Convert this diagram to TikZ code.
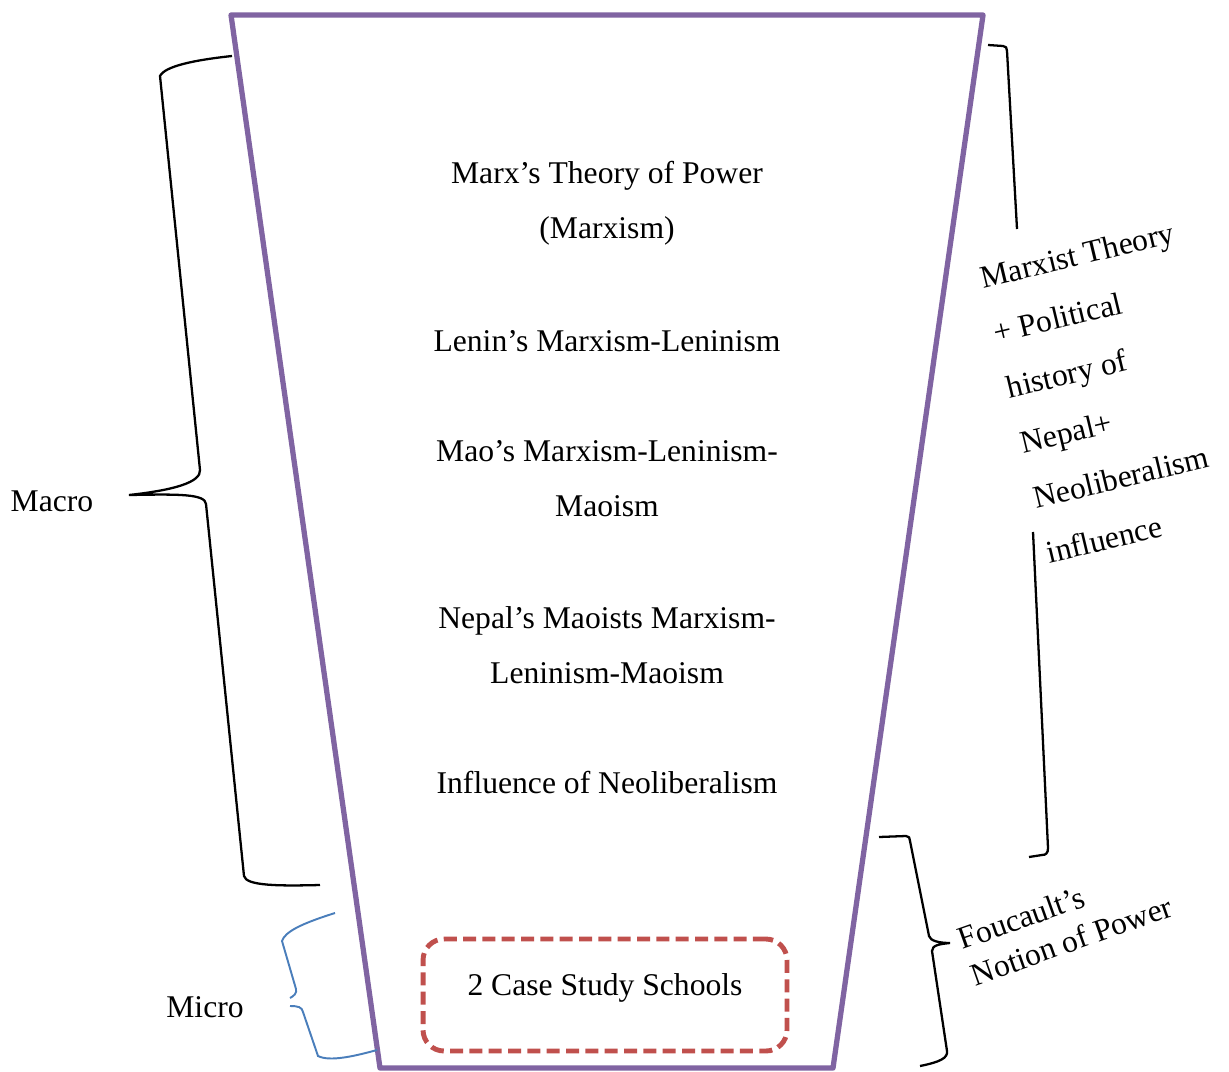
\documentclass[tikz,border=0pt]{standalone}
\usepackage{fontspec}
\setmainfont{Liberation Serif}
\definecolor{funnelpurple}{HTML}{8064A2}
\definecolor{boxred}{HTML}{C0504D}
\definecolor{braceblue}{HTML}{4A7EBB}
\begin{document}
\begin{tikzpicture}[x=0.02cm,y=-0.02cm,
  lbl/.style={font=\fontsize{18}{31.3}\selectfont, align=center, inner sep=0pt},
  sidelbl/.style={inner sep=0pt, anchor=north west, align=left},
  funnel/.style={draw=funnelpurple, line width=3pt, line join=round},
  casebox/.style={draw=boxred, line width=2.8pt, rounded corners=0.42cm, dash pattern=on 7.4pt off 3.6pt, minimum width=7.28cm, minimum height=2.24cm},
  bracepath/.style={draw=black, line width=1.3pt},
  bluebrace/.style={draw=braceblue, line width=1.1pt}]
\useasboundingbox (0,0) rectangle (1229,1071);
% funnel
\coordinate (tl) at (231,15);
\coordinate (tr) at (983,15);
\coordinate (br) at (833,1068);
\coordinate (bl) at (380,1068);
\draw[funnel] (tl) -- (tr) -- (br) -- (bl) -- cycle;
% labels inside
\node[lbl] (t1) at (607,203) {Marx’s Theory of Power\\(Marxism)};
\node[lbl] (t2) at (607,341) {Lenin’s Marxism-Leninism};
\node[lbl] (t3) at (607,479) {Mao’s Marxism-Leninism-\\Maoism};
\node[lbl] (t4) at (607,645) {Nepal’s Maoists Marxism-\\Leninism-Maoism};
\node[lbl] (t5) at (607,783) {Influence of Neoliberalism};
\node[casebox] (cs) at (605,995) {};
\node[lbl] (t6) at (605,988) {2 Case Study Schools};
% left labels
\node[lbl] (macro) at (52,501) {Macro};
\node[lbl] (micro) at (205,1007) {Micro};
% macro brace
\draw[bracepath] (232,56) .. controls (195,60) and (165,66) .. (160,76) -- (200,470)
  .. controls (201,482) and (175,490) .. (129,495)
  .. controls (180,494) and (205,494) .. (206,504) -- (244,876)
  .. controls (246,886) and (280,886) .. (320,885);
% micro brace
\draw[bluebrace] (335,913) .. controls (300,924) and (285,932) .. (282,941) -- (296,989)
  .. controls (297,993) and (294,996) .. (290,998);
\draw[bluebrace] (290,1006) .. controls (298,1006) and (302,1007) .. (303,1012) -- (318,1056)
  .. controls (330,1062) and (355,1056) .. (377,1050);
% right top bracket
\draw[bracepath] (988,45) -- (1003,46) .. controls (1006,46) and (1007,48) .. (1007,51) -- (1017,229);
\draw[bracepath] (1033,532) -- (1048,848) .. controls (1048,853) and (1046,855) .. (1042,855) -- (1029,857);
% right bottom brace
\draw[bracepath] (879,837) -- (906,836) .. controls (909,836) and (910,838) .. (910,841) -- (929,936)
  .. controls (930,941) and (940,943) .. (950,943)
  .. controls (940,944) and (932,945) .. (932,951) -- (947,1051)
  .. controls (948,1058) and (940,1062) .. (920,1066);
% rotated labels
\node[sidelbl, rotate=13.5, font=\fontsize{18}{32.2}\selectfont] (marx) at (978,267)
  {Marxist Theory\\+ Political\\history of\\Nepal+\\Neoliberalism\\influence};
\node[sidelbl, rotate=19.5, font=\fontsize{18}{21.8}\selectfont] (fouc) at (955,929)
  {Foucault’s\\Notion of Power};
\end{tikzpicture}
\end{document}
